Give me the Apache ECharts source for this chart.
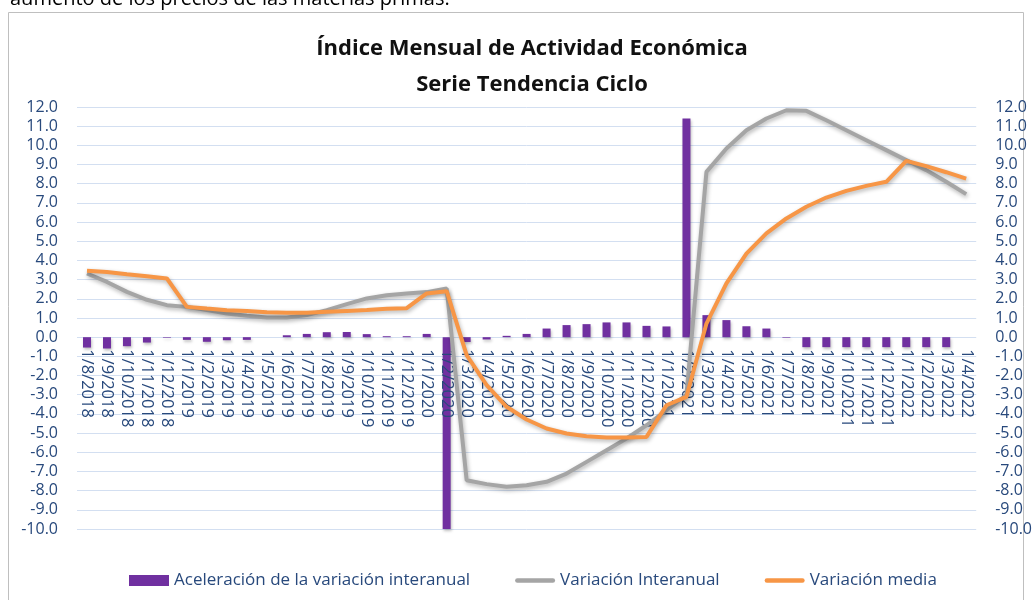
<!DOCTYPE html>
<html lang="es">
<head>
    <meta charset="UTF-8">
    <title>Índice Mensual de Actividad Económica</title>
    <script src="https://cdn.jsdelivr.net/npm/echarts@6/dist/echarts.min.js"></script>
    <style>
        html, body {
            margin: 0;
            padding: 0;
            background: #fff;
        }
    </style>
</head>
<body>
<div id="main" style="width: 1035px;height:600px;"></div>
<script type="application/javascript">
    // categorías (meses)
    var meses = [
        '1/8/2018', '1/9/2018', '1/10/2018', '1/11/2018', '1/12/2018',
        '1/1/2019', '1/2/2019', '1/3/2019', '1/4/2019', '1/5/2019', '1/6/2019',
        '1/7/2019', '1/8/2019', '1/9/2019', '1/10/2019', '1/11/2019', '1/12/2019',
        '1/1/2020', '1/2/2020', '1/3/2020', '1/4/2020', '1/5/2020', '1/6/2020',
        '1/7/2020', '1/8/2020', '1/9/2020', '1/10/2020', '1/11/2020', '1/12/2020',
        '1/1/2021', '1/2/2021', '1/3/2021', '1/4/2021', '1/5/2021', '1/6/2021',
        '1/7/2021', '1/8/2021', '1/9/2021', '1/10/2021', '1/11/2021', '1/12/2021',
        '1/1/2022', '1/2/2022', '1/3/2022', '1/4/2022'
    ];

    // Aceleración de la variación interanual (barras)
    var aceleracion = [
        -0.54, -0.59, -0.47, -0.28, -0.03,
        -0.14, -0.24, -0.16, -0.14, 0, 0.10,
        0.17, 0.26, 0.27, 0.16, 0.05, 0.05,
        0.17, -10.0, -0.25, -0.12, 0.07, 0.17,
        0.45, 0.63, 0.68, 0.77, 0.77, 0.59,
        0.56, 11.4, 1.15, 0.89, 0.57, 0.45,
        -0.03, -0.52, -0.52, -0.52, -0.52, -0.52,
        -0.52, -0.52, -0.52, null
    ];

    // Variación Interanual (línea gris)
    var interanual = [
        3.32, 2.88, 2.36, 1.95, 1.67,
        1.58, 1.41, 1.23, 1.12, 1.03, 1.03,
        1.15, 1.41, 1.72, 2.02, 2.19, 2.28,
        2.35, 2.54, -7.46, -7.66, -7.80, -7.72,
        -7.54, -7.11, -6.50, -5.89, -5.28, -4.59,
        -3.81, -3.00, 8.62, 9.84, 10.79, 11.40,
        11.83, 11.80, 11.31, 10.79, 10.27, 9.75,
        9.23, 8.71, 8.10, 7.46
    ];

    // Variación media (línea naranja)
    var media = [
        3.46, 3.40, 3.28, 3.18, 3.06,
        1.58, 1.49, 1.41, 1.36, 1.30, 1.27,
        1.27, 1.32, 1.37, 1.42, 1.48, 1.51,
        2.28, 2.40, -0.94, -2.50, -3.63, -4.29,
        -4.76, -5.02, -5.16, -5.23, -5.23, -5.20,
        -3.55, -3.11, 0.71, 2.80, 4.36, 5.41,
        6.19, 6.80, 7.28, 7.63, 7.89, 8.10,
        9.19, 8.92, 8.60, 8.27
    ];

    var fuente = 'Open Sans';
    var azul = '#28497C';
    // icono de línea gruesa para la leyenda
    var iconoLinea = 'path://M2,0 L42,0 A2.5,2.5 0 0 1 42,5 L2,5 A2.5,2.5 0 0 1 2,0 Z';

    // eje y: de -10 a 12, el cero queda 10/22 del alto sobre la base
    var yMin = -10, yMax = 12;
    var gridTop = 107, gridBottom = 71, altoTotal = 600;
    var altoGrid = altoTotal - gridTop - gridBottom;
    var desplazaX = -altoGrid * (0 - yMin) / (yMax - yMin);

    var myChart = echarts.init(document.getElementById('main'));

    var yEje = function (pos) {
        return {
            type: 'value',
            position: pos,
            min: yMin,
            max: yMax,
            interval: 1,
            axisLine: {show: false},
            axisTick: {show: false},
            axisLabel: {
                margin: 19,
                color: azul,
                fontFamily: fuente,
                fontSize: 16,
                formatter: function (v) {
                    return v.toFixed(1);
                }
            },
            splitLine: {
                show: pos === 'left',
                lineStyle: {color: '#D3DFF1', width: 1}
            }
        };
    };

    var option = {
        animation: false,
        title: {
            text: 'Índice Mensual de Actividad Económica\nSerie Tendencia Ciclo',
            left: 527,
            top: 26,
            textAlign: 'center',
            textStyle: {
                fontFamily: fuente,
                fontSize: 22,
                fontWeight: 'bold',
                color: '#111',
                lineHeight: 36
            }
        },
        legend: {
            left: 124,
            top: 567,
            itemGap: 45,
            itemWidth: 40,
            itemHeight: 11,
            symbolKeepAspect: true,
            textStyle: {fontFamily: fuente, fontSize: 17, color: azul},
            data: [
                {name: 'Aceleración de la variación interanual', icon: 'rect'},
                {name: 'Variación Interanual', icon: iconoLinea},
                {name: 'Variación media', icon: iconoLinea}
            ]
        },
        grid: {left: 77, right: 58, top: gridTop, bottom: gridBottom},
        xAxis: {
            type: 'category',
            data: meses,
            z: 3,
            position: 'bottom',
            offset: desplazaX,
            axisLine: {show: false, onZero: false},
            axisTick: {show: false},
            axisLabel: {
                rotate: -90,
                interval: 0,
                margin: 12,
                color: azul,
                fontFamily: fuente,
                fontSize: 16.5
            }
        },
        yAxis: [yEje('left'), yEje('right')],
        series: [
            {
                name: 'Aceleración de la variación interanual',
                type: 'bar',
                data: aceleracion,
                barWidth: 8,
                z: 2,
                itemStyle: {
                    color: '#7030A0',
                    shadowColor: 'rgba(0,0,0,0.25)',
                    shadowBlur: 3,
                    shadowOffsetX: 1,
                    shadowOffsetY: 2
                }
            },
            {
                name: 'Variación Interanual',
                type: 'line',
                data: interanual,
                symbol: 'none',
                z: 4,
                itemStyle: {color: '#A5A5A5'},
                lineStyle: {
                    color: '#A5A5A5',
                    width: 4,
                    shadowColor: 'rgba(0,0,0,0.3)',
                    shadowBlur: 4,
                    shadowOffsetX: 1,
                    shadowOffsetY: 2
                }
            },
            {
                name: 'Variación media',
                type: 'line',
                data: media,
                symbol: 'none',
                z: 5,
                itemStyle: {color: '#F79646'},
                lineStyle: {
                    color: '#F79646',
                    width: 4,
                    shadowColor: 'rgba(0,0,0,0.3)',
                    shadowBlur: 4,
                    shadowOffsetX: 1,
                    shadowOffsetY: 2
                }
            }
        ],
        graphic: [
            {
                type: 'rect',
                silent: true,
                shape: {x: 8.5, y: 12.5, width: 1015, height: 600},
                style: {fill: 'none', stroke: '#BFBFBF', lineWidth: 1}
            },
            {
                type: 'text',
                silent: true,
                x: 10,
                y: 9,
                style: {
                    text: 'aumento de los precios de las materias primas.',
                    fontFamily: fuente,
                    fontSize: 20,
                    fill: '#000',
                    verticalAlign: 'bottom'
                }
            }
        ]
    };

    myChart.setOption(option);
</script>
</body>
</html>
